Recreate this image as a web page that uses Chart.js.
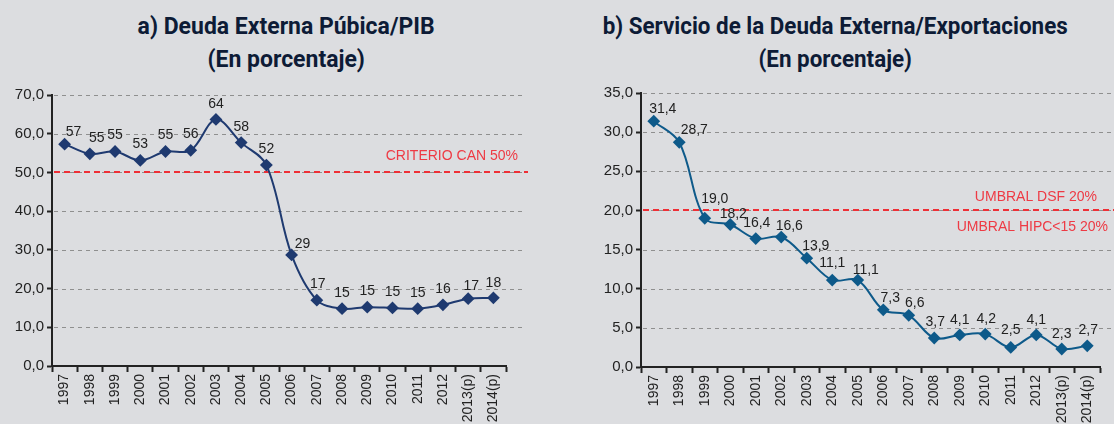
<!DOCTYPE html>
<html>
<head>
<meta charset="utf-8">
<script src="https://cdn.jsdelivr.net/npm/chart.js@4.4.1/dist/chart.umd.min.js"></script>
<style>
  body { margin: 0; background: #dcdde0; }
  #wrap { position: relative; width: 1114px; height: 424px; overflow: hidden; background: #dcdde0; }
  .title {
    position: absolute; top: 10px; text-align: center; white-space: nowrap;
    font-family: Roboto, "Liberation Sans", sans-serif;
    font-weight: bold; font-size: 24px; line-height: 33px; color: #0d1b36;
  }
  .title span { display: inline-block; transform-origin: center; }
  canvas { position: absolute; top: 0; }
</style>
</head>
<body>
<div id="wrap">
  <div class="title" id="titleA" style="left:86px;width:400px"><span>a) Deuda Externa Púbica/PIB</span><br><span>(En porcentaje)</span></div>
  <div class="title" id="titleB" style="left:585px;width:500px"><span>b) Servicio de la Deuda Externa/Exportaciones</span><br><span>(En porcentaje)</span></div>
  <canvas id="chartA" width="540" height="424" style="left:0"></canvas>
  <canvas id="chartB" width="525" height="424" style="left:589px"></canvas>
</div>
<script>
// ── Data ─────────────────────────────────────────────────────
const years = ['1997', '1998', '1999', '2000', '2001', '2002', '2003', '2004', '2005',
               '2006', '2007', '2008', '2009', '2010', '2011', '2012', '2013(p)', '2014(p)'];

// Deuda externa pública / PIB (%)
const deudaPib = [57.3, 54.8, 55.4, 53.1, 55.4, 55.7, 63.7, 57.7, 51.9,
                  28.7, 17.0, 14.8, 15.2, 15.0, 14.8, 15.8, 17.4, 17.6];

// Servicio de la deuda externa / exportaciones (%)
const servicioExp = [31.4, 28.7, 19.0, 18.2, 16.4, 16.6, 13.9, 11.1, 11.1,
                     7.3, 6.6, 3.7, 4.1, 4.2, 2.5, 4.1, 2.3, 2.7];

const criterioCan = 50;
const umbralDsf = 20;

// data-label placement: [dx, dy] in px from each marker
const labelNudgeA = [[9, -12], [7, -16], [0, -16], [0, -16], [0, -16], [0, -16], [0, -15], [0, -15], [0, -16],
                     [11, -11], [1, -16], [0, -16], [0, -16], [0, -16], [0, -16], [0, -16], [3, -12], [0, -15]];
const labelNudgeB = [[9, -12], [15, -12], [10, -19], [3, -10], [1, -15], [8, -11], [9, -12], [0, -17], [8, -10],
                     [7, -12], [6, -12], [1, -16], [0, -15], [1, -15], [0, -17], [0, -15], [0, -15], [1, -16]];

// ── Condensed titles ─────────────────────────────────────────
function condense(id, firstLineWidth) {
  const spans = document.querySelectorAll('#' + id + ' span');
  const k = firstLineWidth / spans[0].getBoundingClientRect().width;
  spans.forEach(s => { s.style.transform = `scaleX(${k})`; });
}
condense('titleA', 297);
condense('titleB', 465);

// ── Helpers ──────────────────────────────────────────────────
const comma = v => v.toFixed(1).replace('.', ',');
const TICK_FONT = { family: "'Liberation Sans', Arial, sans-serif", size: 15 };
const AXIS_COLOR = '#222';

// dashed grid + red threshold line with its notes
const refLines = {
  id: 'refLines',
  beforeDatasetsDraw(chart, args, opts) {
    const { ctx, chartArea, scales: { y } } = chart;
    ctx.save();
    ctx.strokeStyle = '#8f8f8f';
    ctx.lineWidth = 1;
    ctx.setLineDash([4, 4]);
    y.ticks.forEach(t => {
      if (t.value === 0) return;
      const py = Math.round(y.getPixelForValue(t.value)) + 0.5;
      ctx.beginPath();
      ctx.moveTo(chartArea.left + 2, py);
      ctx.lineTo(opts.gridEnd, py);
      ctx.stroke();
    });

    const ty = Math.round(y.getPixelForValue(opts.value));
    ctx.strokeStyle = '#ee2f36';
    ctx.lineWidth = 2;
    ctx.setLineDash([6, 4]);
    ctx.beginPath();
    ctx.moveTo(chartArea.left + 2, ty);
    ctx.lineTo(opts.lineEnd, ty);
    ctx.stroke();

    ctx.setLineDash([]);
    ctx.fillStyle = '#ee3a44';
    ctx.font = "14px 'Liberation Sans', Arial, sans-serif";
    ctx.textAlign = 'right';
    ctx.textBaseline = 'middle';
    opts.notes.forEach(n => ctx.fillText(n.text, n.x, ty + n.dy));
    ctx.restore();
  }
};

// value labels next to each marker
const pointLabels = {
  id: 'pointLabels',
  afterDatasetsDraw(chart, args, opts) {
    const { ctx } = chart;
    const meta = chart.getDatasetMeta(0);
    const values = chart.data.datasets[0].data;
    ctx.save();
    ctx.fillStyle = '#222';
    ctx.font = "14px 'Liberation Sans', Arial, sans-serif";
    ctx.textAlign = 'center';
    ctx.textBaseline = 'middle';
    meta.data.forEach((pt, i) => {
      const [dx, dy] = opts.nudge[i];
      ctx.fillText(opts.format(values[i]), pt.x + dx, pt.y + dy);
    });
    ctx.restore();
  }
};

function lineChart(canvasId, cfg) {
  const ctx = document.getElementById(canvasId).getContext('2d');
  return new Chart(ctx, {
    type: 'line',
    data: {
      labels: years,
      datasets: [{
        data: cfg.values,
        borderColor: cfg.color,
        backgroundColor: cfg.color,
        borderWidth: 2,
        tension: 0.35,
        pointStyle: 'rectRot',
        pointRadius: 5,
        pointBackgroundColor: cfg.color,
        pointBorderColor: cfg.color,
        clip: false,
      }]
    },
    options: {
      responsive: false,
      animation: false,
      layout: { padding: cfg.padding },
      plugins: {
        legend: { display: false },
        tooltip: { enabled: false },
        refLines: cfg.ref,
        pointLabels: cfg.labels,
      },
      scales: {
        x: {
          offset: true,
          grid: { offset: true, drawOnChartArea: false, drawTicks: true, tickLength: 6, tickColor: AXIS_COLOR, tickWidth: 2 },
          border: { display: true, color: AXIS_COLOR, width: 2 },
          ticks: {
            color: '#222', font: { family: "'Liberation Sans', Arial, sans-serif", size: 14 },
            minRotation: 90, maxRotation: 90, autoSkip: false, padding: 2,
          },
          afterFit: s => { s.height = cfg.xHeight; },
        },
        y: {
          min: 0, max: cfg.max,
          grid: { drawOnChartArea: false, drawTicks: true, tickLength: 5, tickColor: AXIS_COLOR, tickWidth: 2 },
          border: { display: true, color: AXIS_COLOR, width: 2 },
          ticks: { stepSize: cfg.step, color: '#222', font: TICK_FONT, padding: 3, callback: v => comma(v) },
          afterFit: s => { s.width = 52; },
        }
      }
    },
    plugins: [refLines, pointLabels]
  });
}

// ── a) Deuda Externa Pública / PIB ───────────────────────────
lineChart('chartA', {
  values: deudaPib,
  color: '#1f3a70',
  max: 70, step: 10,
  padding: { top: 95, right: 34, left: 0, bottom: 0 },
  xHeight: 58,
  ref: {
    value: criterioCan, gridEnd: 524, lineEnd: 528,
    notes: [{ text: 'CRITERIO CAN 50%', x: 518, dy: -16 }],
  },
  labels: { nudge: labelNudgeA, format: v => String(Math.round(v)) },
});

// ── b) Servicio de la Deuda Externa / Exportaciones ──────────
lineChart('chartB', {
  values: servicioExp,
  color: '#0e5a8a',
  max: 35, step: 5,
  padding: { top: 93, right: 14, left: 0, bottom: 0 },
  xHeight: 57,
  ref: {
    value: umbralDsf, gridEnd: 525, lineEnd: 525,
    notes: [
      { text: 'UMBRAL DSF 20%', x: 508, dy: -13 },
      { text: 'UMBRAL HIPC<15 20%', x: 519, dy: 17 },
    ],
  },
  labels: { nudge: labelNudgeB, format: v => comma(v) },
});
</script>
</body>
</html>
